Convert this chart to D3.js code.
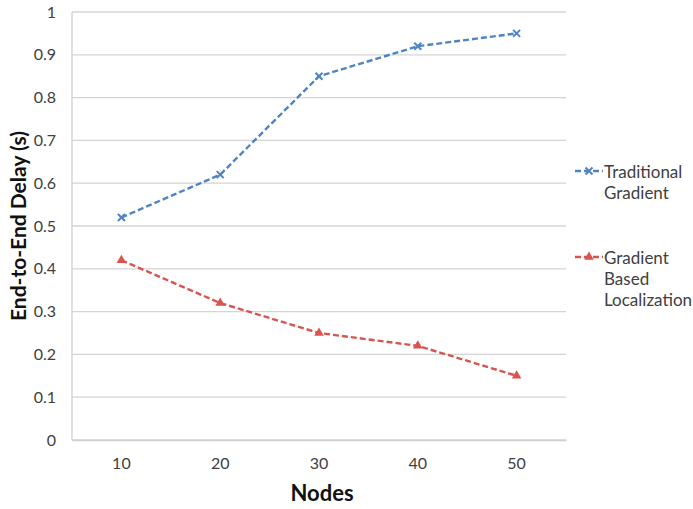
<!DOCTYPE html>
<html>
<head>
<meta charset="utf-8">
<script src="https://cdn.jsdelivr.net/npm/d3@7"></script>
<style>
  html, body { margin: 0; padding: 0; background: #fff; }
  svg { display: block; }
  text { font-family: Lato, "Open Sans", sans-serif; }
</style>
</head>
<body>
<svg id="chart" width="693" height="509"></svg>
<script>
// Node counts along the x axis
const nodes = ["10", "20", "30", "40", "50"];
// End-to-end delay (seconds) for each approach
const traditionalGradient = [0.52, 0.62, 0.85, 0.92, 0.95];
const gradientBasedLocalization = [0.42, 0.32, 0.25, 0.22, 0.15];
// Y axis ticks
const yTicks = [0, 0.1, 0.2, 0.3, 0.4, 0.5, 0.6, 0.7, 0.8, 0.9, 1];
const yTickLabels = ["0", "0.1", "0.2", "0.3", "0.4", "0.5", "0.6", "0.7", "0.8", "0.9", "1"];

const series = [
  { name: ["Traditional", "Gradient"], values: traditionalGradient, color: "#4f84c4", marker: "x" },
  { name: ["Gradient", "Based", "Localization"], values: gradientBasedLocalization, color: "#d9534f", marker: "triangle" }
];

const svg = d3.select("#chart");
const plot = { left: 72, right: 566, top: 12, bottom: 440 };

const x = d3.scaleBand().domain(nodes).range([plot.left, plot.right]);
const y = d3.scaleLinear().domain([0, 1]).range([plot.bottom, plot.top]);

// Horizontal gridlines
svg.append("g")
  .selectAll("line")
  .data(yTicks)
  .join("line")
  .attr("x1", plot.left).attr("x2", plot.right)
  .attr("y1", d => y(d)).attr("y2", d => y(d))
  .attr("stroke", "#d4d4d4").attr("stroke-width", 1.3);

// Vertical axis line
svg.append("line")
  .attr("x1", plot.left).attr("x2", plot.left)
  .attr("y1", plot.top).attr("y2", plot.bottom)
  .attr("stroke", "#cfcfcf").attr("stroke-width", 1.3);

// Y axis labels
const yAxis = d3.axisLeft(y).tickValues(yTicks)
  .tickFormat((d, i) => yTickLabels[i]).tickSize(0).tickPadding(16);
const gy = svg.append("g").attr("transform", `translate(${plot.left},0)`).call(yAxis);
gy.select(".domain").remove();
gy.selectAll("text").attr("font-size", 16).attr("fill", "#404040")
  .attr("font-family", "Lato, 'Open Sans', sans-serif");

// X axis labels
const xAxis = d3.axisBottom(x).tickSize(0).tickPadding(18);
const gx = svg.append("g").attr("transform", `translate(0,${plot.bottom})`).call(xAxis);
gx.select(".domain").attr("stroke", "#cfcfcf").attr("stroke-width", 1.3);
gx.selectAll("text").attr("font-size", 16).attr("fill", "#404040")
  .attr("font-family", "Lato, 'Open Sans', sans-serif");

// Axis titles
svg.append("text")
  .attr("x", (plot.left + plot.right) / 2 + 3).attr("y", 501)
  .attr("text-anchor", "middle").attr("font-size", 22).attr("font-weight", "bold")
  .attr("fill", "#111").text("Nodes");

svg.append("text")
  .attr("transform", `translate(26,${(plot.top + plot.bottom) / 2}) rotate(-90)`)
  .attr("text-anchor", "middle").attr("font-size", 21).attr("font-weight", "bold")
  .attr("fill", "#111").text("End-to-End Delay (s)");

const cx = i => x(nodes[i]) + x.bandwidth() / 2;

function drawMarker(g, type, px, py, color) {
  if (type === "x") {
    const s = 3.5;
    g.append("path")
      .attr("d", `M${px - s},${py - s}L${px + s},${py + s}M${px - s},${py + s}L${px + s},${py - s}`)
      .attr("stroke", color).attr("stroke-width", 2).attr("fill", "none");
  } else {
    g.append("path")
      .attr("d", d3.symbol(d3.symbolTriangle, 40)())
      .attr("transform", `translate(${px},${py})`)
      .attr("fill", color);
  }
}

const line = d3.line().x((d, i) => cx(i)).y(d => y(d));

series.forEach(s => {
  const g = svg.append("g");
  g.append("path")
    .datum(s.values)
    .attr("d", line)
    .attr("fill", "none")
    .attr("stroke", s.color)
    .attr("stroke-width", 2.4)
    .attr("stroke-dasharray", "6,3");
  s.values.forEach((v, i) => drawMarker(g, s.marker, cx(i), y(v), s.color));
});

// Legend
const legendTop = [171, 257];
series.forEach((s, k) => {
  const g = svg.append("g");
  const ly = legendTop[k];
  g.append("line")
    .attr("x1", 575).attr("x2", 603).attr("y1", ly).attr("y2", ly)
    .attr("stroke", s.color).attr("stroke-width", 2.4).attr("stroke-dasharray", "6,3");
  drawMarker(g, s.marker, 589, ly, s.color);
  s.name.forEach((t, j) => {
    g.append("text")
      .attr("x", 604).attr("y", ly + j * 21 + 7)
      .attr("font-size", 17).attr("fill", "#404040").text(t);
  });
});
</script>
</body>
</html>
